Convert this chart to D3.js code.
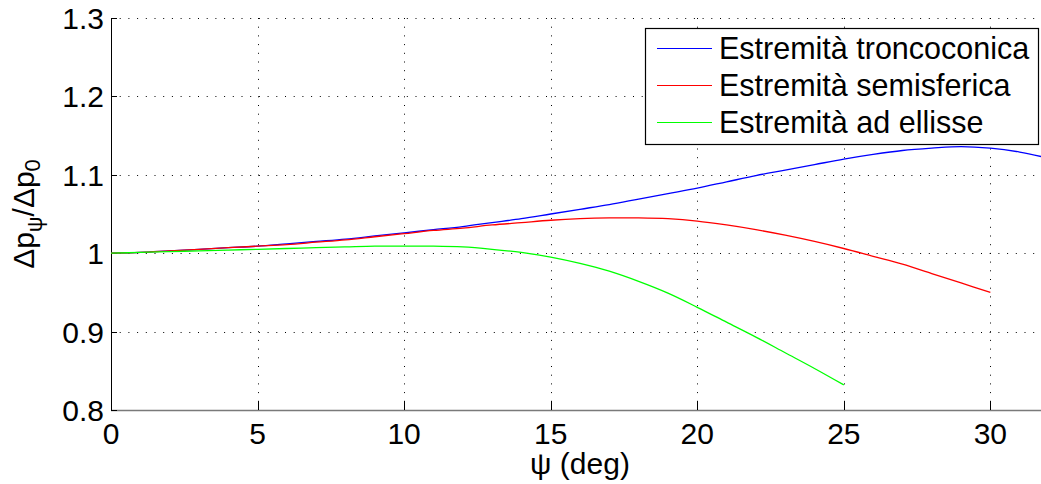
<!DOCTYPE html>
<html>
<head>
<meta charset="utf-8">
<script src="https://cdn.jsdelivr.net/npm/d3@7"></script>
<style>
  body { margin: 0; background: #fff; }
  svg { display: block; font-family: "Liberation Sans", Arial, sans-serif; }
</style>
</head>
<body>
<svg width="1041" height="484"></svg>
<script>
// values
var psiBlue = [0,1,2,3,4,5,6,7,8,9,10,11,12,13,14,15,16,17,18,19,20,21,22,23,24,25,26,27,28,29,30,31,32];
var troncoconica = [1.000,1.001,1.003,1.005,1.007,1.009,1.012,1.015,1.018,1.022,1.026,1.030,1.034,1.039,1.044,1.050,1.056,1.062,1.069,1.076,1.083,1.091,1.099,1.106,1.113,1.120,1.126,1.131,1.134,1.136,1.134,1.129,1.121];

var psiRed = [0,1,2,3,4,5,6,7,8,9,10,11,12,13,14,15,16,17,18,19,20,21,22,23,24,25,26,27,28,29,30];
var semisferica = [1.000,1.001,1.003,1.005,1.007,1.009,1.011,1.014,1.017,1.021,1.025,1.029,1.032,1.036,1.039,1.042,1.044,1.045,1.045,1.044,1.041,1.036,1.030,1.023,1.015,1.006,0.996,0.986,0.974,0.962,0.950];

var psiGreen = [0,1,2,3,4,5,6,7,8,9,10,11,12,13,14,15,16,17,18,19,20,21,22,23,24,25];
var ellisse = [1.000,1.001,1.002,1.003,1.004,1.005,1.006,1.007,1.008,1.009,1.009,1.009,1.008,1.005,1.001,0.995,0.987,0.977,0.964,0.949,0.931,0.912,0.893,0.873,0.853,0.832];

var xTicks = [0,5,10,15,20,25,30];
var yTicks = [0.8,0.9,1,1.1,1.2,1.3];
var legendLabels = ['Estremità troncoconica','Estremità semisferica','Estremità ad ellisse'];
var colors = ['#0000ff','#ff0000','#00ff00'];

var svg = d3.select('svg');
// plot box (right edge runs a little past the window)
var mLeft = 111, mRight = 1049, mTop = 18, mBottom = 410;

var x = d3.scaleLinear().domain([0, 32]).range([mLeft, mRight]);
var y = d3.scaleLinear().domain([0.8, 1.3]).range([mBottom, mTop]);

// dotted grid
svg.append('g').selectAll('line')
    .data(xTicks.filter(d => d > 0))
    .enter().append('line')
    .attr('x1', d => Math.round(x(d)) + 0.5).attr('x2', d => Math.round(x(d)) + 0.5)
    .attr('y1', mTop).attr('y2', mBottom)
    .attr('stroke', '#000').attr('stroke-width', 1)
    .attr('stroke-dasharray', '1,7.7');

svg.append('g').selectAll('line')
    .data(yTicks)
    .enter().append('line')
    .attr('x1', mLeft).attr('x2', mRight)
    .attr('y1', d => Math.round(y(d)) + 0.5).attr('y2', d => Math.round(y(d)) + 0.5)
    .attr('stroke', '#000').attr('stroke-width', 1)
    .attr('stroke-dasharray', '1,7.7');

// bottom axis (greyish) and left axis
svg.append('line')
    .attr('x1', mLeft).attr('x2', mRight)
    .attr('y1', mBottom + 0.5).attr('y2', mBottom + 0.5)
    .attr('stroke', '#7a7a7a').attr('stroke-width', 1.5);

svg.append('line')
    .attr('x1', mLeft + 0.5).attr('x2', mLeft + 0.5)
    .attr('y1', mTop).attr('y2', mBottom)
    .attr('stroke', '#000').attr('stroke-width', 1);

// tick marks pointing inwards
svg.append('g').selectAll('line')
    .data(xTicks)
    .enter().append('line')
    .attr('x1', d => Math.round(x(d)) + 0.5).attr('x2', d => Math.round(x(d)) + 0.5)
    .attr('y1', mBottom).attr('y2', mBottom - 9)
    .attr('stroke', '#000');

svg.append('g').selectAll('line')
    .data(yTicks)
    .enter().append('line')
    .attr('x1', mLeft).attr('x2', mLeft + 6)
    .attr('y1', d => Math.round(y(d)) + 0.5).attr('y2', d => Math.round(y(d)) + 0.5)
    .attr('stroke', '#000');

// tick labels
svg.append('g').selectAll('text')
    .data(xTicks)
    .enter().append('text')
    .attr('x', d => x(d)).attr('y', 444)
    .attr('text-anchor', 'middle')
    .attr('font-size', 30)
    .text(d => d);

svg.append('g').selectAll('text')
    .data(yTicks)
    .enter().append('text')
    .attr('x', 104).attr('y', d => y(d) + 11)
    .attr('text-anchor', 'end')
    .attr('font-size', 30)
    .text(d => d);

// curves
var series = [
    {xs: psiBlue, ys: troncoconica},
    {xs: psiRed, ys: semisferica},
    {xs: psiGreen, ys: ellisse}
];

var line = d3.line()
    .x(d => x(d[0]))
    .y(d => y(d[1]))
    .curve(d3.curveCatmullRom.alpha(0.5));

var plot = svg.append('g');
plot.append('clipPath').attr('id', 'clip')
    .append('rect').attr('x', mLeft).attr('y', mTop)
    .attr('width', mRight - mLeft).attr('height', mBottom - mTop);

plot.selectAll('path')
    .data(series)
    .enter().append('path')
    .attr('clip-path', 'url(#clip)')
    .attr('d', s => line(s.xs.map((v, i) => [v, s.ys[i]])))
    .attr('fill', 'none')
    .attr('stroke', (s, i) => colors[i])
    .attr('stroke-width', 1.3);

// legend
var lg = svg.append('g');
lg.append('rect')
    .attr('x', 645.5).attr('y', 28.5)
    .attr('width', 393).attr('height', 116)
    .attr('fill', '#fff').attr('stroke', '#000').attr('stroke-width', 1.2);

var items = lg.selectAll('g.item')
    .data(legendLabels)
    .enter().append('g')
    .attr('class', 'item')
    .attr('transform', (d, i) => 'translate(0,' + (48 + i * 37) + ')');

items.append('line')
    .attr('x1', 657).attr('x2', 712)
    .attr('y1', 0.5).attr('y2', 0.5)
    .attr('stroke', (d, i) => colors[i])
    .attr('stroke-width', 1.2);

items.append('text')
    .attr('x', 719).attr('y', 10.5)
    .attr('font-size', 30.5)
    .text(d => d);

// axis labels
svg.append('text')
    .attr('x', (mLeft + mRight) / 2).attr('y', 474)
    .attr('text-anchor', 'middle')
    .attr('font-size', 30)
    .text('ψ (deg)');

var yl = svg.append('text')
    .attr('transform', 'translate(34,214) rotate(-90)')
    .attr('text-anchor', 'middle')
    .attr('font-size', 30);
yl.append('tspan').text('Δp');
yl.append('tspan').attr('font-size', 22).attr('dy', 8).text('ψ');
yl.append('tspan').attr('dy', -8).text('/Δp');
yl.append('tspan').attr('font-size', 22).attr('dy', 6).text('0');
</script>
</body>
</html>
